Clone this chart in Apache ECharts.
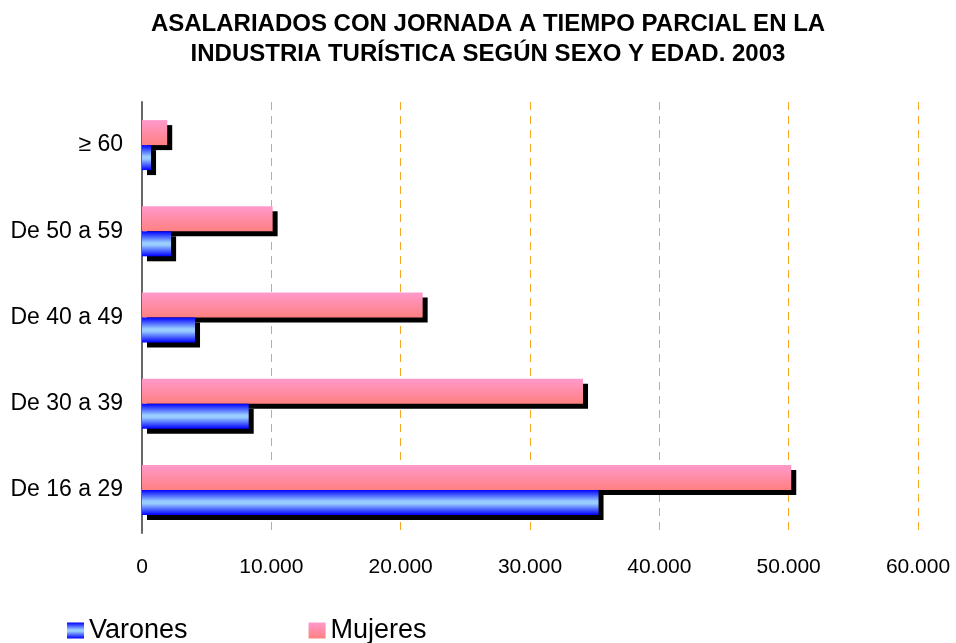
<!DOCTYPE html>
<html>
<head>
<meta charset="utf-8">
<script src="https://cdn.jsdelivr.net/npm/echarts@6/dist/echarts.min.js"></script>
<style>
  html, body { margin: 0; padding: 0; background: #fff; }
  #main { width: 956px; height: 643px; }
</style>
</head>
<body>
<div id="main"></div>
<script>
const categories = ['De 16 a 29', 'De 30 a 39', 'De 40 a 49', 'De 50 a 59', '≥ 60']
const varones = [35300, 8250, 4100, 2250, 700]
const mujeres = [50200, 34100, 21700, 10100, 1950]
const xTicks = { min: 0, max: 60000, interval: 10000 }

const chart = echarts.init(document.getElementById('main'))

const blueFill = new echarts.graphic.LinearGradient(0, 0, 0, 1, [
  { offset: 0, color: '#0000ff' },
  { offset: 0.45, color: '#99ccff' },
  { offset: 0.55, color: '#99ccff' },
  { offset: 1, color: '#0000ff' }
])
const pinkFill = new echarts.graphic.LinearGradient(0, 0, 0, 1, [
  { offset: 0, color: '#ff99cc' },
  { offset: 1, color: '#ff8080' }
])
const font = 'Arial, Liberation Sans, sans-serif'

const option = {
  animation: false,
  title: {
    text: 'ASALARIADOS CON JORNADA A TIEMPO PARCIAL EN LA\nINDUSTRIA TURÍSTICA SEGÚN SEXO Y EDAD. 2003',
    left: 488,
    textAlign: 'center',
    top: 9,
    padding: 0,
    textStyle: {
      fontFamily: font,
      fontWeight: 'bold',
      fontSize: 24,
      lineHeight: 30,
      color: '#000'
    }
  },
  legend: {
    data: ['Varones', 'Mujeres'],
    left: 67,
    top: 617,
    padding: 0,
    itemWidth: 17,
    itemHeight: 16,
    itemGap: 121,
    icon: 'rect',
    itemStyle: { shadowColor: 'transparent', shadowOffsetX: 0, shadowOffsetY: 0 },
    textStyle: { fontFamily: font, fontSize: 27, color: '#000' }
  },
  grid: {
    left: 142,
    right: 38,
    top: 102,
    bottom: 110
  },
  xAxis: {
    type: 'value',
    min: xTicks.min,
    max: xTicks.max,
    interval: xTicks.interval,
    axisLine: { show: false },
    axisTick: { show: false },
    axisLabel: {
      margin: 24,
      fontFamily: font,
      fontSize: 21,
      color: '#000',
      formatter: v => v === 0 ? '0' : String(v).replace(/\B(?=(\d{3})+(?!\d))/g, '.')
    },
    splitLine: {
      lineStyle: { color: '#f5a623', type: [8, 6], width: 1 }
    }
  },
  yAxis: {
    type: 'category',
    data: categories,
    axisLine: { lineStyle: { color: '#666', width: 2 } },
    axisTick: { show: false },
    axisLabel: {
      margin: 19,
      fontFamily: font,
      fontSize: 23,
      color: '#000'
    }
  },
  series: [
    {
      name: 'Mujeres',
      type: 'bar',
      data: mujeres,
      z: 2,
      barGap: '0%',
      barCategoryGap: '42%',
      itemStyle: {
        color: pinkFill,
        shadowColor: '#000',
        shadowBlur: 0,
        shadowOffsetX: 5,
        shadowOffsetY: 5
      }
    },
    {
      name: 'Varones',
      type: 'bar',
      data: varones,
      z: 3,
      barGap: '0%',
      barCategoryGap: '42%',
      itemStyle: {
        color: blueFill,
        shadowColor: '#000',
        shadowBlur: 0,
        shadowOffsetX: 5,
        shadowOffsetY: 5
      }
    }
  ]
}

chart.setOption(option)
</script>
</body>
</html>
